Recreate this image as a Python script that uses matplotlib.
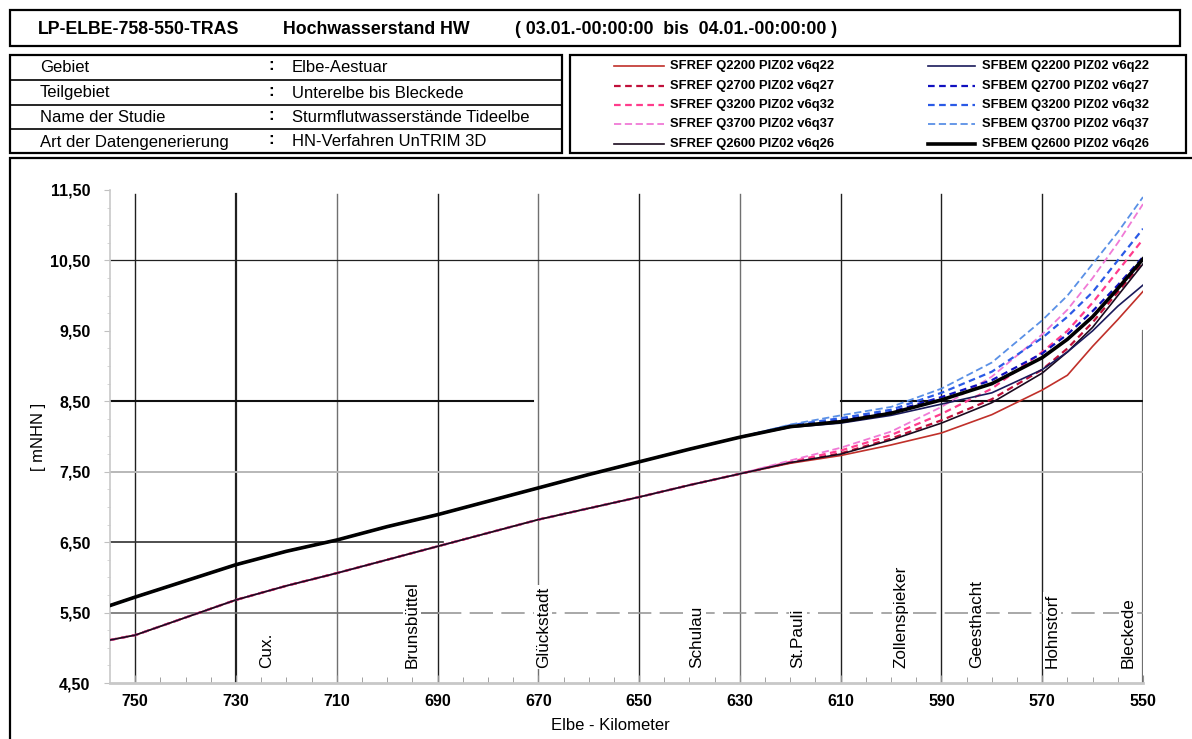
import matplotlib
matplotlib.use("Agg")
import matplotlib.pyplot as plt
from matplotlib.patches import Rectangle
from matplotlib.lines import Line2D

plt.rcParams['font.family'] = ['Liberation Sans', 'DejaVu Sans']

# ---------------- data ----------------
km = [755, 750, 740, 730, 720, 710, 700, 690, 680, 670, 660, 650, 640, 630,
      620, 610, 600, 590, 580, 570, 565, 560, 555, 550]

ref_q2200 = [5.11, 5.18, 5.43, 5.68, 5.88, 6.06, 6.25, 6.44, 6.63, 6.82, 6.98, 7.14, 7.31, 7.47,
             7.62, 7.73, 7.88, 8.05, 8.31, 8.66, 8.87, 9.28, 9.66, 10.06]
ref_q2700 = [5.11, 5.18, 5.43, 5.68, 5.88, 6.06, 6.25, 6.44, 6.63, 6.82, 6.98, 7.14, 7.31, 7.47,
             7.63, 7.76, 7.97, 8.23, 8.53, 8.95, 9.25, 9.62, 10.05, 10.48]
ref_q3200 = [5.11, 5.18, 5.43, 5.68, 5.88, 6.06, 6.25, 6.44, 6.63, 6.82, 6.98, 7.14, 7.31, 7.47,
             7.64, 7.80, 8.02, 8.32, 8.68, 9.20, 9.50, 9.90, 10.35, 10.80]
ref_q3700 = [5.11, 5.18, 5.43, 5.68, 5.88, 6.06, 6.25, 6.44, 6.63, 6.82, 6.98, 7.14, 7.31, 7.47,
             7.66, 7.84, 8.07, 8.42, 8.85, 9.45, 9.80, 10.25, 10.75, 11.30]
ref_q2600 = [5.11, 5.18, 5.43, 5.68, 5.88, 6.06, 6.25, 6.44, 6.63, 6.82, 6.98, 7.14, 7.31, 7.47,
             7.63, 7.75, 7.95, 8.19, 8.48, 8.90, 9.20, 9.55, 10.00, 10.45]

bem_q2200 = [5.60, 5.72, 5.95, 6.18, 6.37, 6.53, 6.72, 6.89, 7.08, 7.27, 7.46, 7.64, 7.82, 7.99,
             8.13, 8.19, 8.30, 8.46, 8.62, 8.95, 9.20, 9.50, 9.85, 10.15]
bem_q2700 = [5.60, 5.72, 5.95, 6.18, 6.37, 6.53, 6.72, 6.89, 7.08, 7.27, 7.46, 7.64, 7.82, 7.99,
             8.15, 8.23, 8.35, 8.56, 8.80, 9.18, 9.45, 9.78, 10.15, 10.55]
bem_q3200 = [5.60, 5.72, 5.95, 6.18, 6.37, 6.53, 6.72, 6.89, 7.08, 7.27, 7.46, 7.64, 7.82, 7.99,
             8.16, 8.26, 8.38, 8.62, 8.92, 9.40, 9.70, 10.05, 10.50, 10.95]
bem_q3700 = [5.60, 5.72, 5.95, 6.18, 6.37, 6.53, 6.72, 6.89, 7.08, 7.27, 7.46, 7.64, 7.82, 7.99,
             8.17, 8.30, 8.42, 8.68, 9.05, 9.65, 10.00, 10.45, 10.90, 11.40]
bem_q2600 = [5.60, 5.72, 5.95, 6.18, 6.37, 6.53, 6.72, 6.89, 7.08, 7.27, 7.46, 7.64, 7.82, 7.99,
             8.14, 8.21, 8.33, 8.52, 8.75, 9.12, 9.38, 9.70, 10.10, 10.52]

series_labels = ["SFREF Q2200 PIZ02 v6q22", "SFREF Q2700 PIZ02 v6q27",
                 "SFREF Q3200 PIZ02 v6q32", "SFREF Q3700 PIZ02 v6q37",
                 "SFREF Q2600 PIZ02 v6q26",
                 "SFBEM Q2200 PIZ02 v6q22", "SFBEM Q2700 PIZ02 v6q27",
                 "SFBEM Q3200 PIZ02 v6q32", "SFBEM Q3700 PIZ02 v6q37",
                 "SFBEM Q2600 PIZ02 v6q26"]

stations = ["Cux.", "Brunsbüttel", "Glückstadt", "Schulau", "St.Pauli",
            "Zollenspieker", "Geesthacht", "Hohnstorf", "Bleckede"]
station_km = [724, 695, 669, 638.5, 618.5, 598, 583, 568, 553]

x_ticks = [750, 730, 710, 690, 670, 650, 630, 610, 590, 570, 550]
y_ticks = [4.5, 5.5, 6.5, 7.5, 8.5, 9.5, 10.5, 11.5]
y_ticklabels = ["4,50", "5,50", "6,50", "7,50", "8,50", "9,50", "10,50", "11,50"]

info_keys = ["Gebiet", "Teilgebiet", "Name der Studie", "Art der Datengenerierung"]
info_vals = ["Elbe-Aestuar", "Unterelbe bis Bleckede", "Sturmflutwasserstände Tideelbe",
             "HN-Verfahren UnTRIM 3D"]

# ---------------- figure ----------------
W, H = 1192, 739
fig = plt.figure(figsize=(W / 100, H / 100), dpi=100)


def fx(px):
    return px / W


def fy(py):
    return 1 - py / H


def box(x0, y0, x1, y1, lw=1.6):
    fig.add_artist(Rectangle((fx(x0), fy(y1)), fx(x1) - fx(x0), fy(y0) - fy(y1),
                             transform=fig.transFigure, fill=False, lw=lw, ec='black'))


# header boxes
box(10, 10, 1180, 46)
box(10, 55, 562, 153)
for yy in (80, 105, 129):
    fig.add_artist(Line2D([fx(10), fx(562)], [fy(yy), fy(yy)], transform=fig.transFigure,
                          lw=1.2, color='black'))
box(570, 55, 1186, 153)
box(10, 158, 1205, 760)

fig.text(fx(38), fy(29), "LP-ELBE-758-550-TRAS", fontsize=12.8, fontweight='bold', va='center')
fig.text(fx(283), fy(29), "Hochwasserstand HW", fontsize=12.8, fontweight='bold', va='center')
fig.text(fx(515), fy(29), "( 03.01.-00:00:00  bis  04.01.-00:00:00 )", fontsize=12.8,
         fontweight='bold', va='center')

row_y = [68, 93, 117, 142]
for k, v, yy in zip(info_keys, info_vals, row_y):
    fig.text(fx(40), fy(yy), k, fontsize=12, va='center')
    fig.text(fx(268), fy(yy - 2), ":", fontsize=12, va='center', fontweight='bold')
    fig.text(fx(292), fy(yy), v, fontsize=12, va='center')

# ---------------- main axes ----------------
ax = fig.add_axes([fx(110), fy(683), fx(1143) - fx(110), fy(190) - fy(683)])
ax.set_xlim(755, 550)
ax.set_ylim(4.5, 11.5)

# grid-like lines (as in reference)
for xv in x_ticks:
    col = '#202020' if xv in (750, 730, 690, 650, 610, 590, 570) else '#707070'
    lw = 1.6 if xv == 730 else 1.0
    y_top = 9.5 if xv == 550 else 11.45
    ax.plot([xv, xv], [4.5, y_top], color=col, lw=lw if xv != 550 else 1.6, zorder=1)
ax.plot([755, 550], [10.5, 10.5], color='#202020', lw=0.9, zorder=1)
ax.plot([755, 671], [8.5, 8.5], color='#101010', lw=1.5, zorder=1)
ax.plot([610, 550], [8.5, 8.5], color='#101010', lw=1.5, zorder=1)
ax.plot([755, 550], [7.5, 7.5], color='#b8b8b8', lw=1.4, zorder=1)
ax.plot([755, 689], [6.5, 6.5], color='#303030', lw=1.2, zorder=1)
ax.plot([755, 690], [5.5, 5.5], color='#707070', lw=1.2, zorder=1)
ax.plot([690, 550], [5.5, 5.5], color='#9a9a9a', lw=1.2, ls=(0, (14, 5)), zorder=1)

ref_styles = [
    (ref_q2200, dict(color='#c0302a', lw=1.2, ls='-')),
    (ref_q2700, dict(color='#c0103a', lw=1.6, ls=(0, (3, 2)))),
    (ref_q3200, dict(color='#ff3c8c', lw=1.6, ls=(0, (3, 2)))),
    (ref_q3700, dict(color='#f07ad6', lw=1.3, ls=(0, (4, 2)))),
    (ref_q2600, dict(color='#1a0a1e', lw=1.2, ls='-')),
]
bem_styles = [
    (bem_q2200, dict(color='#1a1a5a', lw=1.2, ls='-')),
    (bem_q2700, dict(color='#1010c0', lw=1.6, ls=(0, (3, 2)))),
    (bem_q3200, dict(color='#2a5ae6', lw=1.6, ls=(0, (3, 2)))),
    (bem_q3700, dict(color='#5a90e6', lw=1.3, ls=(0, (4, 2)))),
    (bem_q2600, dict(color='#000000', lw=2.6, ls='-')),
]
for vals, st in ref_styles + bem_styles:
    ax.plot(km, vals, zorder=3, **st)

for name, sk in zip(stations, station_km):
    ax.text(sk, 4.72, name, rotation=90, ha='center', va='bottom', fontsize=12.3,
            zorder=4, bbox=dict(facecolor='white', edgecolor='none', pad=1))

for s in ('top', 'right'):
    ax.spines[s].set_visible(False)
ax.spines['left'].set_color('#c8c8c8')
ax.spines['bottom'].set_color('#c8c8c8')
ax.spines['bottom'].set_linewidth(2)
ax.spines['left'].set_linewidth(1.2)

ax.set_xticks(x_ticks)
ax.set_xticklabels([str(v) for v in x_ticks], fontsize=11.5, fontweight='bold')
ax.set_xticks(list(range(555, 755, 5)), minor=True)
ax.set_yticks(y_ticks)
ax.set_yticklabels(y_ticklabels, fontsize=11.5, fontweight='bold')
ax.set_yticks([4.5 + 0.25 * i for i in range(29)], minor=True)
ax.tick_params(axis='x', which='major', direction='in', length=6, color='#909090', pad=8)
ax.tick_params(axis='x', which='minor', direction='in', length=4, color='#909090')
ax.tick_params(axis='y', which='major', direction='out', length=4, color='#c0c0c0', pad=10)
ax.tick_params(axis='y', which='minor', direction='out', length=2, color='#d0d0d0')
ax.patch.set_alpha(0)

fig.text(fx(610), fy(725), "Elbe - Kilometer", fontsize=12, ha='center', va='center')
fig.text(fx(38), fy(437), "[ mNHN ]", fontsize=12, rotation=90, ha='center', va='center')

# ---------------- legend box ----------------
leg_rows = [66, 86, 105, 124, 144]
for i, (vals, st) in enumerate(ref_styles):
    yy = leg_rows[i]
    fig.add_artist(Line2D([fx(614), fx(664)], [fy(yy), fy(yy)], transform=fig.transFigure, **st))
    fig.text(fx(670), fy(yy), series_labels[i], fontsize=9.4, fontweight='bold', va='center')
for i, (vals, st) in enumerate(bem_styles):
    yy = leg_rows[i]
    fig.add_artist(Line2D([fx(928), fx(975)], [fy(yy), fy(yy)], transform=fig.transFigure, **st))
    fig.text(fx(982), fy(yy), series_labels[5 + i], fontsize=9.4, fontweight='bold', va='center')

fig.savefig("out.png", dpi=100)
